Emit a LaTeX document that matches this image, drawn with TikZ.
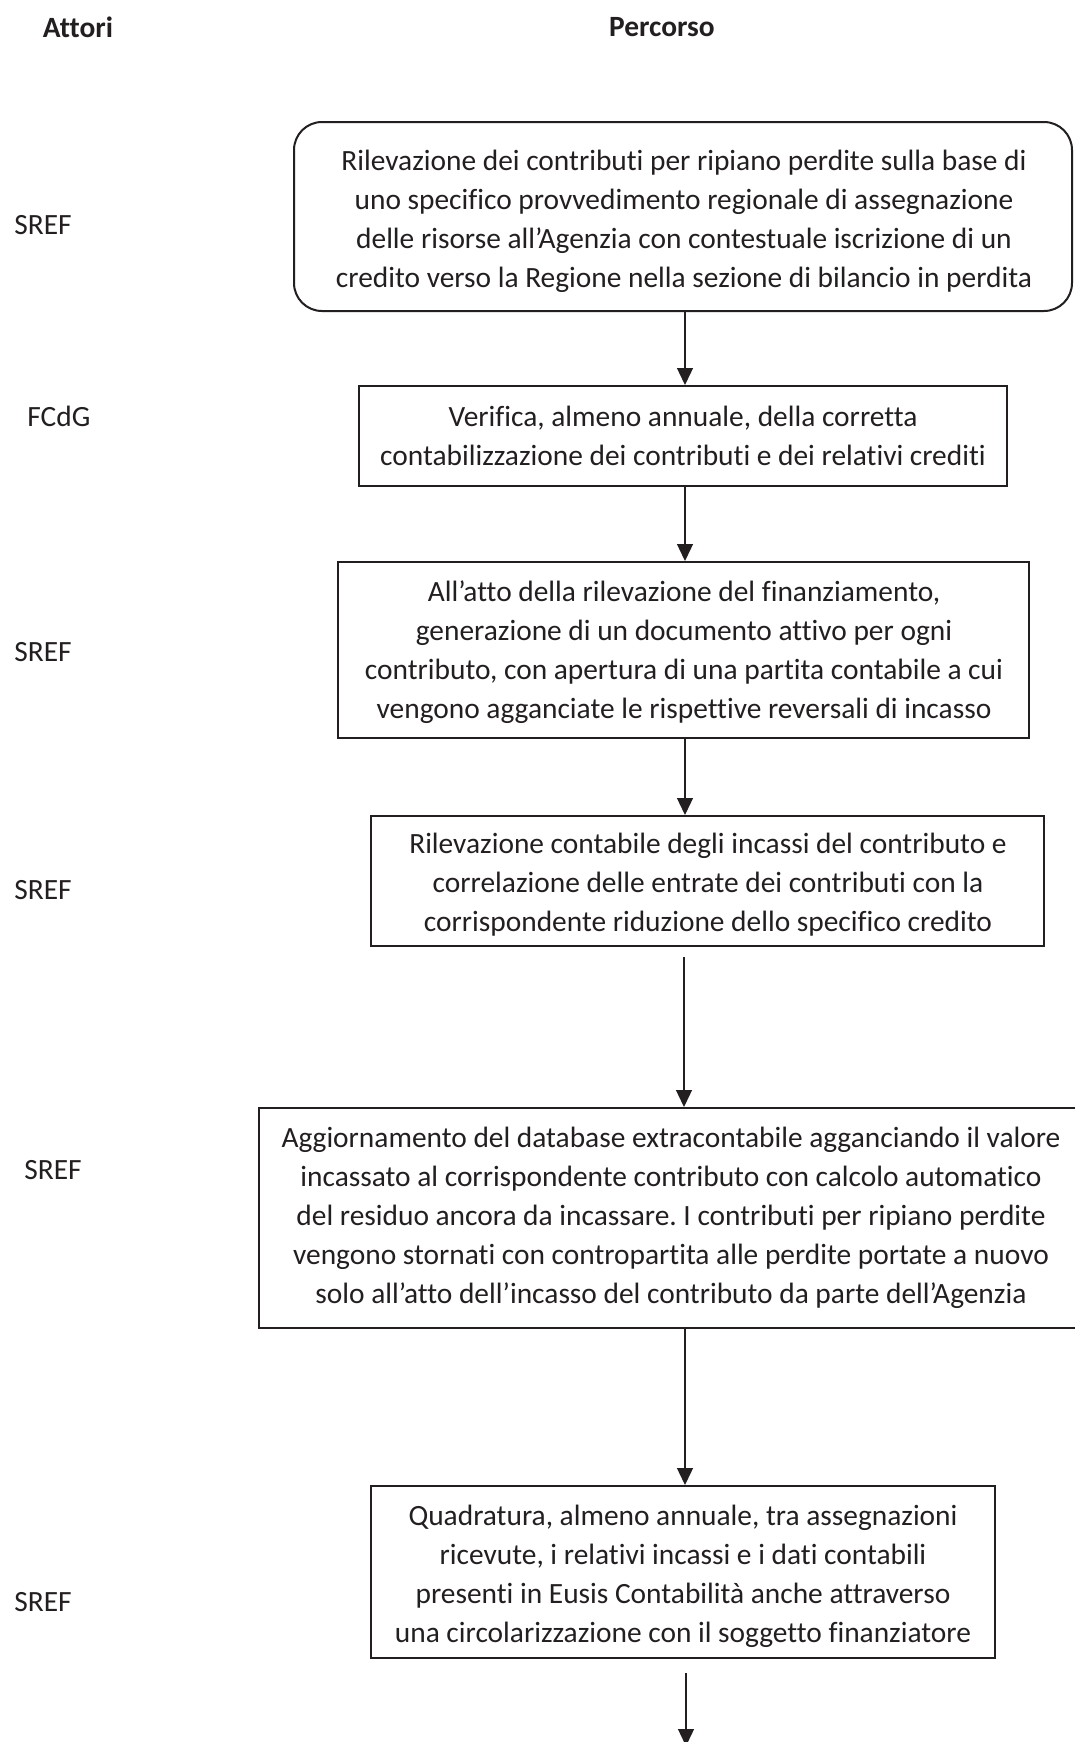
\documentclass[tikz,border=0pt]{standalone}
\usepackage{fontspec}
\setmainfont{Carlito}[Ligatures=NoCommon]
\usetikzlibrary{arrows.meta}
\definecolor{ink}{HTML}{231F20}
\frenchspacing
\begin{document}
\begin{tikzpicture}[x=0.5pt,y=-0.5pt,
  txt/.style={font=\fontsize{14.7}{19.5}\selectfont, text=ink, align=center, inner sep=0pt},
  actor/.style={txt, anchor=west},
  head/.style={font=\fontsize{14.7}{19.5}\selectfont\bfseries, text=ink, inner sep=0pt},
  stepbox/.style={draw=ink, line width=1pt, inner sep=0pt},
  arr/.style={draw=ink, line width=0.65pt, -{Triangle[length=8.5pt,width=8pt]}}]
\useasboundingbox (0,0) rectangle (1075,1742);
\fill[white] (0,0) rectangle (1075,1742);

\node[head] (hA) at (78,27) {Attori};
\node[head] (hP) at (662,27) {Percorso};

\node[actor] (a1) at (14,225) {SREF};
\node[actor] (a2) at (27,416) {FCdG};
\node[actor] (a3) at (14,652) {SREF};
\node[actor] (a4) at (14,890) {SREF};
\node[actor] (a5) at (24,1170) {SREF};
\node[actor] (a6) at (14,1602) {SREF};

\node[stepbox, rounded corners=14pt, minimum width=389pt, minimum height=94.5pt] (b1) at (683,216.5) {};
\node[txt] (t1) at (684,221.5)
 {Rilevazione dei contributi per ripiano perdite sulla base di\\
  uno specifico provvedimento regionale di assegnazione\\
  delle risorse all’Agenzia con contestuale iscrizione di un\\
  credito verso la Regione nella sezione di bilancio in perdita};

\node[stepbox, minimum width=324pt, minimum height=50pt] (b2) at (683,436) {};
\node[txt] (t2) at (683,436)
 {Verifica, almeno annuale, della corretta\\
  contabilizzazione dei contributi e dei relativi crediti};

\node[stepbox, minimum width=345.5pt, minimum height=88pt] (b3) at (683.5,650) {};
\node[txt] (t3) at (684,652)
 {All’atto della rilevazione del finanziamento,\\
  generazione di un documento attivo per ogni\\
  contributo, con apertura di una partita contabile a cui\\
  vengono agganciate le rispettive reversali di incasso};

\node[stepbox, minimum width=336.5pt, minimum height=65pt] (b4) at (707.5,881) {};
\node[txt] (t4) at (708,885)
 {Rilevazione contabile degli incassi del contributo e\\
  correlazione delle entrate dei contributi con la\\
  corrispondente riduzione dello specifico credito};

\node[stepbox, minimum width=413pt, minimum height=110pt] (b5) at (672,1218) {};
\node[txt] (t5) at (671,1218)
 {Aggiornamento del database extracontabile agganciando il valore\\
  incassato al corrispondente contributo con calcolo automatico\\
  del residuo ancora da incassare. I contributi per ripiano perdite\\
  vengono stornati con contropartita alle perdite portate a nuovo\\
  solo all’atto dell’incasso del contributo da parte dell’Agenzia};

\node[stepbox, minimum width=312pt, minimum height=86pt] (b6) at (683,1572) {};
\node[txt] (t6) at (683,1576)
 {Quadratura, almeno annuale, tra assegnazioni\\
  ricevute, i relativi incassi e i dati contabili\\
  presenti in Eusis Contabilità anche attraverso\\
  una circolarizzazione con il soggetto finanziatore};

\coordinate (ax) at (685,0);
\coordinate (s45) at (684,957);
\coordinate (s7) at (686,1673);
\coordinate (e7) at (686,1746);

\draw[arr] (b1.south -| ax) -- (b2.north -| ax);
\draw[arr] (b2.south -| ax) -- (b3.north -| ax);
\draw[arr] (b3.south -| ax) -- (b4.north -| ax);
\draw[arr] (s45) -- (b5.north -| s45);
\draw[arr] (b5.south -| ax) -- (b6.north -| ax);
\draw[arr] (s7) -- (e7);
\end{tikzpicture}
\end{document}
